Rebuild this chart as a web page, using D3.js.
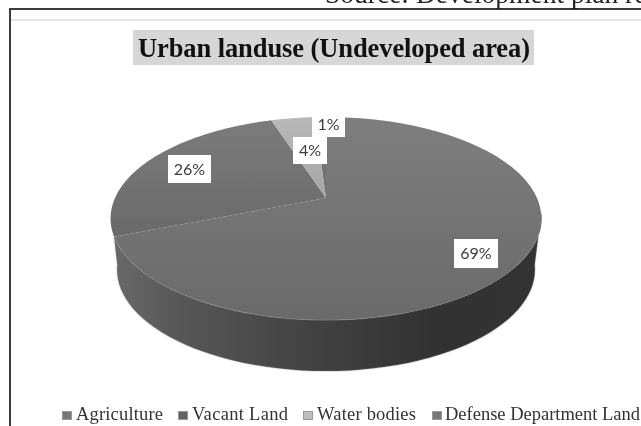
<!DOCTYPE html>
<html><head><meta charset="utf-8">
<style>html,body{margin:0;padding:0;background:#fff;overflow:hidden}svg{display:block;filter:blur(0.5px)}</style>
<script src="https://cdn.jsdelivr.net/npm/d3@7/dist/d3.min.js"></script>
</head><body><svg id="c" width="641" height="426"></svg>
<script>
const categories=["Agriculture","Vacant Land","Water bodies","Defense Department Land"];
const values=[69,26,4,1];
const valueLabels=["69%","26%","4%","1%"];
const titleText="Urban landuse (Undeveloped area)";
const sourceText="Source: Development plan re";
const topStops=[["#7d7e7d","#6a6a6a"],["#7b7c7b","#5d5d5d"],["#b8b8b8","#8c8c8c"],["#777","#666"]];
const legendSwatches=["#777777","#626262","#bdbdbd","#777777"];
const legendX=[62,178,303,432];
const legendTextX=[76,192,317,445];
const legendTextW=[87,96,99,195];
const labelBoxes=[[454,239,44,29],[168,155,43,28],[293,137,34,27],[312,112,33,25]];

const svg=d3.select("#c");
const defs=svg.append("defs");
const cx=326,cy=198,A=211,a=97.4,k=0.202,depth=51,shrink=0.97;
const project=t=>{const u=Math.sin(t),v=Math.cos(t),d=1+k*v;return [cx+A*u/d,cy-a*v/d];};
const pie=d3.pie().sort(null).startAngle(0).endAngle(2*Math.PI)(values);
const line=d3.line();
const rim=(s,e)=>d3.range(0,61).map(i=>project(s+(e-s)*i/60));

// frame
svg.append("line").attr("x1",10).attr("x2",10).attr("y1",8).attr("y2",426).attr("stroke","#3c3c3c").attr("stroke-width",2);
svg.append("line").attr("x1",9).attr("x2",641).attr("y1",9).attr("y2",9).attr("stroke","#3c3c3c").attr("stroke-width",2);
svg.append("line").attr("x1",11).attr("x2",641).attr("y1",20).attr("y2",20).attr("stroke","#c9c9c9").attr("stroke-width",1);
svg.append("text").attr("x",325).attr("y",3).attr("font-family","Liberation Serif").attr("font-size",27.5).attr("fill","#222").text(sourceText);

// title
svg.append("rect").attr("x",133).attr("y",30).attr("width",401).attr("height",35).attr("fill","#d6d6d6");
svg.append("text").attr("x",138).attr("y",57).attr("font-family","Liberation Serif").attr("font-weight","bold").attr("font-size",26.5).attr("textLength",392).attr("lengthAdjust","spacing").attr("fill","#111").text(titleText);

// side wall
const sideG=defs.append("linearGradient").attr("id","side").attr("gradientUnits","userSpaceOnUse").attr("x1",110).attr("x2",541).attr("y1",0).attr("y2",0);
[[0,"#6a6a6a"],[0.15,"#585858"],[0.45,"#434343"],[0.75,"#323232"],[1,"#333333"]].forEach(s=>sideG.append("stop").attr("offset",s[0]).attr("stop-color",s[1]));
const upper=rim(Math.PI*0.55,pie[0].endAngle);
const lower=rim(Math.PI*0.55,Math.PI*1.45).map(p=>[cx+(p[0]-cx)*shrink,p[1]+depth]);
const sidePts=upper.concat(lower.reverse());
svg.append("path").attr("d",line(sidePts)+"Z").attr("fill","url(#side)").attr("stroke","#777").attr("stroke-opacity",0.25).attr("stroke-width",1.5);

// top slices
pie.forEach((d,i)=>{
  const g=defs.append("linearGradient").attr("id","t"+i).attr("gradientUnits","userSpaceOnUse").attr("x1",0).attr("x2",0).attr("y1",117).attr("y2",320);
  const stops=topStops[i];
  g.append("stop").attr("offset",0).attr("stop-color",stops[0]);
  g.append("stop").attr("offset",1).attr("stop-color",stops[1]);
  svg.append("path").attr("d",line([[cx,cy],...rim(d.startAngle,d.endAngle)])+"Z").attr("fill","url(#t"+i+")").attr("stroke","none");
});
// light rim along the front
svg.append("path").attr("d",line(rim(Math.PI*0.9,pie[0].endAngle))).attr("fill","none").attr("stroke","#8a8a8a").attr("stroke-opacity",0.5).attr("stroke-width",1);

// value labels
pie.forEach((d,i)=>{
  const b=labelBoxes[i];
  svg.append("rect").attr("x",b[0]).attr("y",b[1]).attr("width",b[2]).attr("height",b[3]).attr("fill","#fff");
  svg.append("text").attr("x",b[0]+b[2]/2).attr("y",b[1]+b[3]/2+5.5).attr("text-anchor","middle").attr("font-family","Lato").attr("font-size",16).attr("fill","#3c3c3c").text(valueLabels[i]);
});

// legend
categories.forEach((c,i)=>{
  svg.append("rect").attr("x",legendX[i]+.5).attr("y",411.5).attr("width",9).attr("height",8).attr("fill",legendSwatches[i]).attr("stroke","#999").attr("stroke-width",1);
  svg.append("text").attr("x",legendTextX[i]).attr("y",420).attr("font-family","Liberation Serif").attr("font-size",18.5).attr("textLength",legendTextW[i]).attr("lengthAdjust","spacing").attr("fill","#333").text(c);
});
</script></body></html>
